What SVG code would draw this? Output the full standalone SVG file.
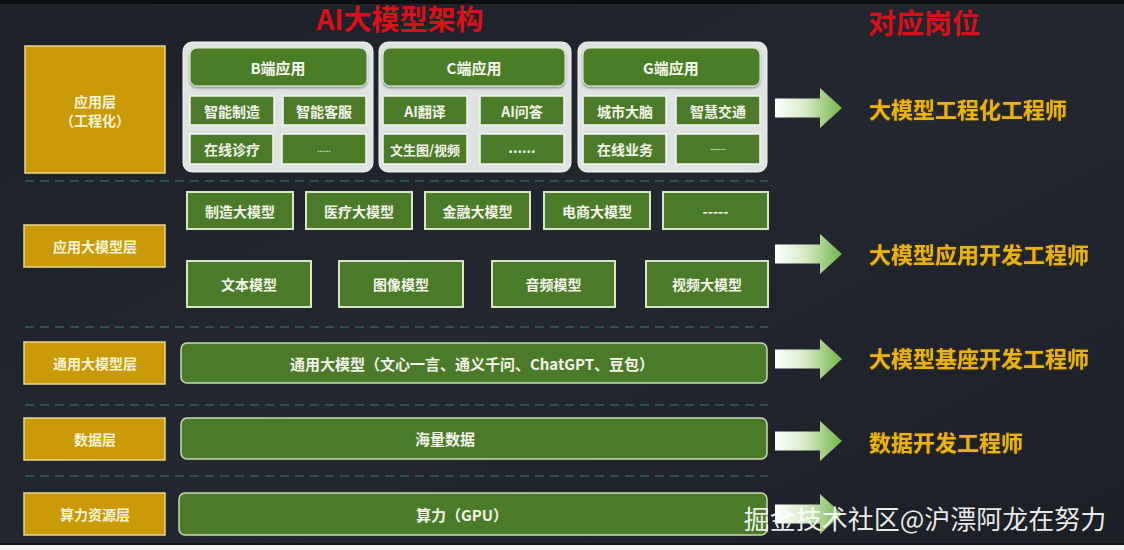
<svg xmlns="http://www.w3.org/2000/svg" width="1124" height="550" viewBox="0 0 1124 550">
<defs>
<linearGradient id="bg" x1="0" y1="0" x2="1" y2="1">
<stop offset="0" stop-color="#1d2029"/>
<stop offset="0.5" stop-color="#232730"/>
<stop offset="1" stop-color="#1c1f26"/>
</linearGradient>
<linearGradient id="arr" x1="0" y1="0" x2="1" y2="0">
<stop offset="0" stop-color="#ffffff"/>
<stop offset="0.45" stop-color="#d6ebc4"/>
<stop offset="1" stop-color="#74b44a"/>
</linearGradient>
<filter id="glow" x="-10%" y="-30%" width="120%" height="160%">
<feGaussianBlur in="SourceAlpha" stdDeviation="1.2" result="b"/>
<feFlood flood-color="#5a3a00"/>
<feComposite in2="b" operator="in" result="g"/>
<feMerge><feMergeNode in="g"/><feMergeNode in="SourceGraphic"/></feMerge>
</filter>
<filter id="sh" x="-5%" y="-10%" width="110%" height="130%">
<feDropShadow dx="0" dy="1.5" stdDeviation="1.2" flood-color="#000" flood-opacity="0.45"/>
</filter>
<path id="arrowShape" d="M0,-9.5 L45,-9.5 L45,-20 L67,0 L45,20 L45,9.5 L0,9.5 Z"/>
</defs>
<style>
text{font-family:"Noto Sans CJK SC","Noto Sans",sans-serif;text-anchor:middle;dominant-baseline:central}
.ly{fill:#c99a06;stroke:#ead68e;stroke-width:1.5}
.lyt{fill:#fbf3d6;font-size:14px;font-weight:bold}
.panel{fill:#dfe4e3;stroke:#f2f4f2;stroke-width:1}
.hd{fill:#4b7b28;stroke:#e9efe4;stroke-width:1}
.cell{fill:#4b7b28;stroke:#f3f6ef;stroke-width:1.5}
.box{fill:#4b7b28;stroke:#d6e6c7;stroke-width:2}
.bar{fill:#4b7b28;stroke:#c8dcb6;stroke-width:1.5}
.gt{fill:#f3f5ea;font-size:14px;font-weight:bold}
.bt{fill:#f3f5ea;font-size:15px;font-weight:bold}
.ht{fill:#f6f8f0;font-size:15px;font-weight:bold}
.dash{stroke:#2d4f57;stroke-width:2;stroke-dasharray:9 6;fill:none}
.role{fill:#e9b30a;font-size:22px;font-weight:bold;text-anchor:start;filter:url(#glow)}
.title{fill:#d8101a;font-size:28px;font-weight:bold}
</style>
<rect x="0" y="0" width="1124" height="550" fill="url(#bg)"/>
<rect x="0" y="0" width="1124" height="4" fill="#0c0d10"/>
<rect x="0" y="545" width="1124" height="5" fill="#f4f4f4"/>
<rect x="0" y="543" width="1124" height="2" fill="#111317"/>

<text class="title" x="400" y="18">AI大模型架构</text>
<text class="title" x="924" y="22">对应岗位</text>

<g id="separators">
<line class="dash" x1="25" y1="181" x2="768" y2="181"/>
<line class="dash" x1="25" y1="327" x2="768" y2="327"/>
<line class="dash" x1="25" y1="405" x2="768" y2="405"/>
<line class="dash" x1="25" y1="476" x2="768" y2="476"/>
</g>

<g id="layer-app">
<rect class="ly" x="25" y="46" width="140" height="127"/>
<text class="lyt" x="95" y="101">应用层</text>
<text class="lyt" x="95" y="120">（工程化）</text>
</g>
<g id="layer-appmodel">
<rect class="ly" x="24" y="225" width="141" height="42"/>
<text class="lyt" x="95" y="246">应用大模型层</text>
</g>
<g id="layer-general">
<rect class="ly" x="24" y="342" width="141" height="42"/>
<text class="lyt" x="95" y="363">通用大模型层</text>
</g>
<g id="layer-data">
<rect class="ly" x="24" y="418" width="141" height="42"/>
<text class="lyt" x="95" y="439">数据层</text>
</g>
<g id="layer-compute">
<rect class="ly" x="24" y="493" width="141" height="42"/>
<text class="lyt" x="95" y="514">算力资源层</text>
</g>

<g id="panel-b">
<rect class="panel" x="183" y="42" width="190" height="130" rx="9"/>
<rect class="hd" x="190" y="48" width="177" height="38" rx="7" filter="url(#sh)"/>
<text class="ht" x="278" y="67">B端应用</text>
<rect class="cell" x="190" y="96" width="84" height="29"/>
<text class="gt" x="232" y="110.5">智能制造</text>
<rect class="cell" x="283" y="96" width="83" height="29"/>
<text class="gt" x="324" y="110.5">智能客服</text>
<rect class="cell" x="190" y="134" width="83" height="30"/>
<text class="gt" x="232" y="149">在线诊疗</text>
<rect class="cell" x="282" y="134" width="84" height="30"/>
<text class="gt" x="324" y="149" style="font-size:7px">......</text>
</g>
<g id="panel-c">
<rect class="panel" x="379" y="42" width="192" height="130" rx="9"/>
<rect class="hd" x="383" y="48" width="182" height="38" rx="7" filter="url(#sh)"/>
<text class="ht" x="474" y="67">C端应用</text>
<rect class="cell" x="383" y="96" width="84" height="29"/>
<text class="gt" x="425" y="110.5">AI翻译</text>
<rect class="cell" x="480" y="96" width="84" height="29"/>
<text class="gt" x="522" y="110.5">AI问答</text>
<rect class="cell" x="383" y="134" width="84" height="30"/>
<text class="gt" x="425" y="149" style="font-size:13px">文生图/视频</text>
<rect class="cell" x="480" y="134" width="84" height="30"/>
<text class="gt" x="522" y="147">......</text>
</g>
<g id="panel-g">
<rect class="panel" x="578" y="42" width="189" height="130" rx="9"/>
<rect class="hd" x="583" y="48" width="177" height="38" rx="7" filter="url(#sh)"/>
<text class="ht" x="671" y="67">G端应用</text>
<rect class="cell" x="583" y="96" width="83" height="29"/>
<text class="gt" x="625" y="110.5">城市大脑</text>
<rect class="cell" x="676" y="96" width="84" height="29"/>
<text class="gt" x="718" y="110.5">智慧交通</text>
<rect class="cell" x="583" y="134" width="83" height="30"/>
<text class="gt" x="625" y="149">在线业务</text>
<rect class="cell" x="676" y="134" width="84" height="30"/>
<text class="gt" x="718" y="149" style="font-size:7px">------</text>
</g>

<g id="industry-models">
<rect class="box" x="187" y="192" width="106" height="37"/>
<text class="gt" x="240" y="210.5">制造大模型</text>
<rect class="box" x="306" y="192" width="106" height="37"/>
<text class="gt" x="359" y="210.5">医疗大模型</text>
<rect class="box" x="425" y="192" width="105" height="37"/>
<text class="gt" x="477.5" y="210.5">金融大模型</text>
<rect class="box" x="544" y="192" width="106" height="37"/>
<text class="gt" x="597" y="210.5">电商大模型</text>
<rect class="box" x="663" y="192" width="105" height="37"/>
<text class="gt" x="715.5" y="210.5">-----</text>
</g>
<g id="modality-models">
<rect class="box" x="187" y="261" width="124" height="46"/>
<text class="gt" x="249" y="284">文本模型</text>
<rect class="box" x="339" y="261" width="124" height="46"/>
<text class="gt" x="401" y="284">图像模型</text>
<rect class="box" x="492" y="261" width="123" height="46"/>
<text class="gt" x="553.5" y="284">音频模型</text>
<rect class="box" x="646" y="261" width="122" height="46"/>
<text class="gt" x="707" y="284">视频大模型</text>
</g>

<g id="bar-general">
<rect class="bar" x="181" y="343" width="586" height="40" rx="6"/>
<text class="bt" x="472" y="363">通用大模型（文心一言、通义千问、ChatGPT、豆包）</text>
</g>
<g id="bar-data">
<rect class="bar" x="181" y="418" width="586" height="41" rx="6"/>
<text class="bt" x="445" y="438.5">海量数据</text>
</g>
<g id="bar-compute">
<rect class="bar" x="179" y="493" width="588" height="42" rx="6"/>
<text class="bt" x="462" y="514">算力（GPU）</text>
</g>

<g id="connectors" fill="url(#arr)">
<use href="#arrowShape" x="775" y="108"/>
<use href="#arrowShape" x="775" y="254"/>
<use href="#arrowShape" x="775" y="359"/>
<use href="#arrowShape" x="775" y="441"/>
<use href="#arrowShape" x="775" y="514"/>
</g>

<g id="roles">
<text class="role" x="869" y="108">大模型工程化工程师</text>
<text class="role" x="869" y="253">大模型应用开发工程师</text>
<text class="role" x="869" y="357">大模型基座开发工程师</text>
<text class="role" x="869" y="441">数据开发工程师</text>
</g>

<text x="925" y="517" style="fill:#ffffff;fill-opacity:0.92;font-size:26px">掘金技术社区@沪漂阿龙在努力</text>
</svg>
